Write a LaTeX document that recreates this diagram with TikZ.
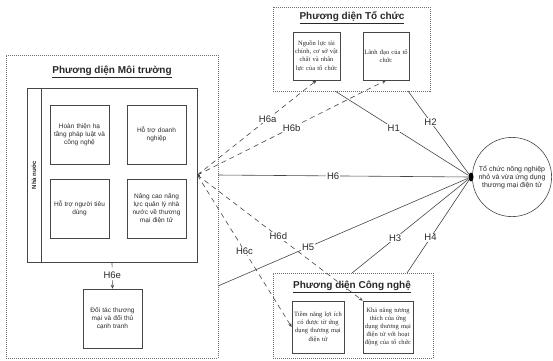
\documentclass[tikz,border=0pt]{standalone}
\usepackage{fontspec}
\setmainfont{Liberation Sans}
\newfontfamily\serifbox{Liberation Serif}
\usepackage{tikz}
\usetikzlibrary{calc,arrows.meta,positioning,shapes.geometric}
\definecolor{frameGray}{RGB}{70,70,70}
\definecolor{dotGray}{RGB}{110,110,110}
\definecolor{textGray}{RGB}{40,40,40}

\begin{document}
\begin{tikzpicture}[x=1pt, y=-1pt,
    groupbox/.style={draw=dotGray, line width=0.6pt, dash pattern=on 1pt off 1pt, rectangle},
    grouptitle/.style={font=\fontsize{10}{12}\selectfont\bfseries, text=textGray},
    factorbox/.style={draw=frameGray, line width=0.7pt, rectangle, align=center, text=textGray,
        font=\fontsize{6.5}{7.8}\selectfont, inner sep=1pt},
    serifbox/.style={factorbox, font=\fontsize{6.5}{8.2}\selectfont\serifbox},
    hyp/.style={draw=frameGray, line width=0.6pt},
    hypdash/.style={hyp, dash pattern=on 5pt off 4pt, -{Stealth[length=4pt,width=3.5pt]}},
    hyplabel/.style={fill=white, inner sep=0.8pt, text=textGray, font=\fontsize{9.5}{11}\selectfont}]

    \useasboundingbox (0,0) rectangle (553,360);

    % group: environment
    \node[groupbox, minimum width=212pt, minimum height=303pt] (env) at (112,206.5) {};
    \node[grouptitle] (envtitle) at (112,72) {\underline{Phương diện Môi trường}};

    % state container with side strip
    \node[draw=frameGray, line width=0.7pt, minimum width=170pt, minimum height=174pt] (state) at (112,175) {};
    \draw[frameGray, line width=0.7pt] (41,88) -- (41,262);
    \node[rotate=90, text=textGray, font=\fontsize{6}{7}\selectfont\bfseries] (statelabel) at (34,175) {Nhà nước};

    \node[factorbox, minimum width=59pt, minimum height=59pt, text width=54pt] (legal) at (79.5,134.5)
        {Hoàn thiện hạ\\ tầng pháp luật và\\ công nghệ};
    \node[factorbox, minimum width=59pt, minimum height=59pt, text width=54pt] (business) at (156.5,134.5)
        {Hỗ trợ doanh\\ nghiệp};
    \node[factorbox, minimum width=59pt, minimum height=59pt, text width=54pt] (consumer) at (79.5,208.5)
        {Hỗ trợ người tiêu\\ dùng};
    \node[factorbox, minimum width=59pt, minimum height=59pt, text width=54pt] (capacity) at (156.5,208.5)
        {Nâng cao năng\\ lực quản lý nhà\\ nước về thương\\ mại điện tử};

    \node[factorbox, minimum width=59pt, minimum height=59pt, text width=54pt] (partner) at (112.5,318.5)
        {Đối tác thương\\ mại và đối thủ\\ cạnh tranh};

    % group: organisation
    \node[groupbox, minimum width=157pt, minimum height=84pt] (org) at (351.5,49) {};
    \node[grouptitle] (orgtitle) at (352,18) {\underline{Phương diện Tổ chức}};
    \node[serifbox, minimum width=47pt, minimum height=48pt, text width=45pt] (resource) at (316.5,56)
        {Nguồn lực tài\\ chính, cơ sở vật\\ chất và nhân\\ lực của tổ chức};
    \node[serifbox, minimum width=46pt, minimum height=48pt, text width=44pt] (leader) at (386,56)
        {Lãnh đạo của tổ\\ chức};

    % group: technology
    \node[groupbox, minimum width=160pt, minimum height=85pt] (tech) at (353,315.5) {};
    \node[grouptitle] (techtitle) at (352,287) {\underline{Phương diện Công nghệ}};
    \node[serifbox, minimum width=52pt, minimum height=52pt, text width=50pt] (benefit) at (318,327)
        {Tiềm năng lợi ích\\ có được từ ứng\\ dụng thương mại\\ điện tử};
    \node[serifbox, minimum width=50pt, minimum height=52pt, text width=48pt] (compat) at (388,327)
        {Khả năng tương\\ thích của ứng\\ dụng thương mại\\ điện tử với hoạt\\ động của tổ chức};

    % adoption
    \node[circle, draw=frameGray, line width=0.6pt, minimum size=76pt, align=center, text=textGray,
        font=\fontsize{7}{8}\selectfont] (adopt) at (512,177)
        {Tổ chức nông nghiệp\\ nhỏ và vừa ứng dụng\\ thương mại điện tử};
    \node[ellipse, fill=black, minimum width=5pt, minimum height=9pt, inner sep=0pt] (hub) at (471,177) {};

    % start points of the direct paths
    \coordinate (o1) at (335,91);
    \coordinate (o2) at (408,91);
    \coordinate (t1) at (352,273);
    \coordinate (t2) at (407,273);
    \coordinate (e1) at (218,175);
    \coordinate (e2) at (218,286);

    % direct hypotheses
    \draw[hyp] (o1) -- (hub) node[hyplabel, pos=0.44] {H1};
    \draw[hyp] (o2) -- (hub) node[hyplabel, pos=0.37] {H2};
    \draw[hyp] (t1) -- (hub) node[hyplabel, pos=0.37] {H3};
    \draw[hyp] (t2) -- (hub) node[hyplabel, pos=0.38] {H4};
    \draw[hyp] (e2) -- (hub) node[hyplabel, pos=0.36] {H5};
    \draw[hyp] (e1) -- (hub) node[hyplabel, pos=0.46] {H6};

    % moderating hypotheses
    \draw[frameGray, line width=0.6pt, {Straight Barb[length=3pt,width=6pt]}-] (state.east) -- ++(3,0);
    \draw[hypdash] (state.east) -- (resource.south) node[hyplabel, pos=0.59] {H6a};
    \draw[hypdash] (state.east) -- (leader.south) node[hyplabel, pos=0.50] {H6b};
    \draw[hypdash] (state.east) -- (benefit.west) node[hyplabel, pos=0.50] {H6c};
    \draw[hypdash] (state.east) -- (compat.north west) node[hyplabel, pos=0.49] {H6d};
    \draw[hypdash] (state.south) -- (partner.north) node[hyplabel, pos=0.48] {H6e};
\end{tikzpicture}
\end{document}
